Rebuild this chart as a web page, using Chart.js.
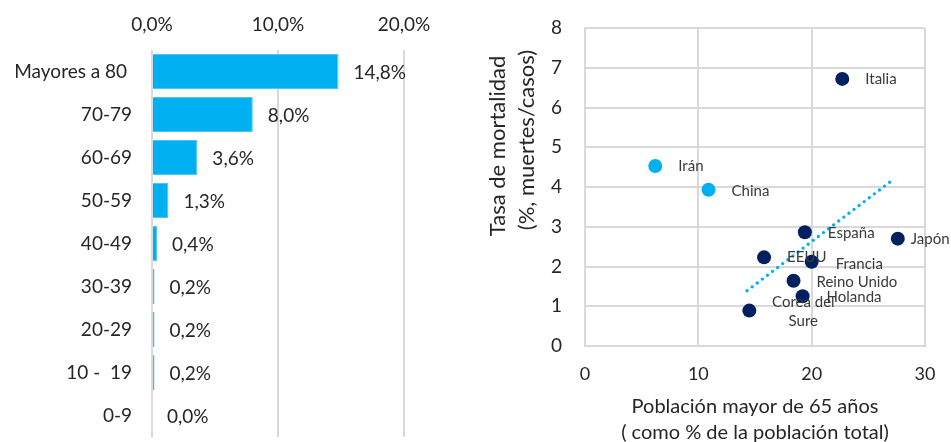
<!DOCTYPE html>
<html>
<head>
<meta charset="utf-8">
<script src="https://cdn.jsdelivr.net/npm/chart.js@4.4.1/dist/chart.umd.min.js"></script>
<style>
  html, body { margin: 0; padding: 0; background: #ffffff; }
  body { width: 951px; height: 442px; position: relative; overflow: hidden; }
  #ageChart { position: absolute; left: 0; top: 0; }
  #scatterChart { position: absolute; left: 475px; top: 0; }
</style>
</head>
<body>
<canvas id="ageChart" width="475" height="442"></canvas>
<canvas id="scatterChart" width="476" height="442"></canvas>
<script>
// ---- Fatality rate by age group ----
const ageGroups = ['Mayores a 80 ', '70-79', '60-69', '50-59', '40-49', '30-39', '20-29', '10 -  19', '0-9'];
const fatalityByAge = [14.8, 8.0, 3.6, 1.3, 0.4, 0.2, 0.2, 0.2, 0.0];
const pctTicks = [0, 10, 20];

// ---- Mortality rate vs. share of population over 65 ----
const countries = ['Italia', 'Irán', 'China', 'España', 'Japón', 'EEUU', 'Francia', 'Reino Unido', 'Holanda', 'Corea del Sur'];
const over65Share = [22.7, 6.2, 10.9, 19.4, 27.6, 15.8, 20.0, 18.4, 19.2, 14.5];
const mortalityRate = [6.72, 4.53, 3.93, 2.86, 2.70, 2.23, 2.12, 1.64, 1.25, 0.89];
const highlighted = ['Irán', 'China'];
const trendX = [14.3, 27.2];
const trendY = [1.39, 4.19];
const rateTicks = [0, 1, 2, 3, 4, 5, 6, 7, 8];
const shareTicks = [0, 10, 20, 30];

// ---- Styles ----
const FONT = 'Lato, "Open Sans", sans-serif';
const CYAN = '#00B0F0';
const NAVY = '#002060';
const GRID = '#d9d9d9';
const TEXT = '#262626';
const LABEL = '#3a3a3a';

const fmtPct = v => v.toFixed(1).replace('.', ',') + '%';

// Axis boxes get fixed sizes and no extra label padding
const fixWidth = w => s => { s.width = w; s.paddingTop = 0; s.paddingBottom = 0; };
const fixHeight = h => s => { s.height = h; s.paddingLeft = 0; s.paddingRight = 0; };

// Label placement for each country (pixel offsets from its point)
const labelPlacement = {
  'Italia':        { dx: 23, dy: 0 },
  'Irán':          { dx: 23, dy: 0 },
  'China':         { dx: 23, dy: 1 },
  'España':        { dx: 23, dy: 1 },
  'Japón':         { dx: 13, dy: 0 },
  'EEUU':          { dx: 23, dy: 0 },
  'Francia':       { dx: 24, dy: 2 },
  'Reino Unido':   { dx: 23, dy: 1 },
  'Holanda':       { dx: 24, dy: 1 },
  'Corea del Sur': { dx: 54, dy: 1, center: true, lines: ['Corea del', 'Sure'], lineGap: 19 }
};

// Value labels to the right of each bar
const barValueLabels = {
  id: 'barValueLabels',
  afterDatasetsDraw(chart) {
    const ctx = chart.ctx;
    const meta = chart.getDatasetMeta(0);
    ctx.save();
    ctx.font = '19px ' + FONT;
    ctx.fillStyle = TEXT;
    ctx.textAlign = 'left';
    ctx.textBaseline = 'middle';
    meta.data.forEach((bar, i) => {
      ctx.fillText(fmtPct(fatalityByAge[i]), bar.x + 15, bar.y + 1);
    });
    ctx.restore();
  }
};

new Chart(document.getElementById('ageChart'), {
  type: 'bar',
  data: {
    labels: ageGroups,
    datasets: [{
      data: fatalityByAge,
      backgroundColor: CYAN,
      borderColor: '#4cc6f3',
      borderWidth: 1,
      borderSkipped: 'start',
      categoryPercentage: 1,
      barPercentage: 0.81
    }]
  },
  options: {
    indexAxis: 'y',
    responsive: false,
    animation: false,
    devicePixelRatio: 1,
    layout: { padding: { left: 0, right: 71, top: 0, bottom: 5 } },
    plugins: { legend: { display: false }, tooltip: { enabled: false } },
    scales: {
      x: {
        position: 'top',
        min: 0,
        max: 20,
        afterBuildTicks: s => { s.ticks = pctTicks.map(v => ({ value: v })); },
        afterFit: fixHeight(50),
        grid: { color: GRID, lineWidth: 2, drawTicks: false },
        border: { display: false },
        ticks: {
          padding: 14,
          color: TEXT,
          font: { family: FONT, size: 19 },
          callback: v => fmtPct(v)
        }
      },
      y: {
        afterFit: fixWidth(152),
        grid: { display: false, drawTicks: false },
        border: { display: false },
        ticks: {
          padding: 20,
          color: TEXT,
          font: { family: FONT, size: 19 }
        }
      }
    }
  },
  plugins: [barValueLabels]
});

// Country names beside the points, plus the axis titles
const scatterText = {
  id: 'scatterText',
  afterDatasetsDraw(chart) {
    const ctx = chart.ctx;
    const meta = chart.getDatasetMeta(1);
    ctx.save();
    ctx.font = '15px ' + FONT;
    ctx.fillStyle = LABEL;
    ctx.textBaseline = 'middle';
    meta.data.forEach((pt, i) => {
      const name = countries[i];
      const p = labelPlacement[name];
      if (p.center) {
        ctx.textAlign = 'center';
        const lines = p.lines;
        const y0 = pt.y + p.dy - (lines.length - 1) * p.lineGap / 2;
        lines.forEach((ln, k) => ctx.fillText(ln, pt.x + p.dx, y0 + k * p.lineGap));
      } else {
        ctx.textAlign = 'left';
        ctx.fillText(name, pt.x + p.dx, pt.y + p.dy);
      }
    });

    const area = chart.chartArea;
    ctx.fillStyle = TEXT;
    ctx.font = '20px ' + FONT;
    ctx.textAlign = 'center';
    const cx = (area.left + area.right) / 2;
    ctx.fillText('Población mayor de 65 años', cx, 407);
    ctx.fillText('( como % de la población total)', cx, 433);

    ctx.font = '22px ' + FONT;
    ctx.save();
    ctx.translate(23, 146);
    ctx.rotate(-Math.PI / 2);
    ctx.fillText('Tasa de mortalidad', 0, 0);
    ctx.restore();
    ctx.save();
    ctx.translate(52, 140);
    ctx.rotate(-Math.PI / 2);
    ctx.fillText('(%, muertes/casos)', 0, 0);
    ctx.restore();
    ctx.restore();
  }
};

new Chart(document.getElementById('scatterChart'), {
  type: 'scatter',
  data: {
    datasets: [
      {
        type: 'line',
        data: trendX.map((x, i) => ({ x, y: trendY[i] })),
        borderColor: CYAN,
        borderWidth: 3.4,
        borderDash: [0, 6.4],
        borderCapStyle: 'round',
        pointRadius: 0,
        fill: false,
        order: 2
      },
      {
        data: over65Share.map((x, i) => ({ x, y: mortalityRate[i] })),
        pointRadius: 7,
        pointHoverRadius: 7,
        pointBorderWidth: 0,
        pointBackgroundColor: countries.map(c => highlighted.includes(c) ? CYAN : NAVY),
        order: 1
      }
    ]
  },
  options: {
    responsive: false,
    animation: false,
    devicePixelRatio: 1,
    layout: { padding: { left: 0, right: 26, top: 28, bottom: 0 } },
    plugins: { legend: { display: false }, tooltip: { enabled: false } },
    scales: {
      x: {
        type: 'linear',
        min: 0,
        max: 30,
        afterBuildTicks: s => { s.ticks = shareTicks.map(v => ({ value: v })); },
        afterFit: fixHeight(96),
        grid: { color: GRID, lineWidth: 2, drawTicks: false },
        border: { color: GRID, width: 2 },
        ticks: { padding: 17, color: TEXT, font: { family: FONT, size: 18 } }
      },
      y: {
        min: 0,
        max: 8,
        afterBuildTicks: s => { s.ticks = rateTicks.map(v => ({ value: v })); },
        afterFit: fixWidth(110),
        grid: { color: GRID, lineWidth: 2, drawTicks: false },
        border: { color: GRID, width: 2 },
        ticks: { padding: 23, color: TEXT, font: { family: FONT, size: 19 } }
      }
    }
  },
  plugins: [scatterText]
});
</script>
</body>
</html>
